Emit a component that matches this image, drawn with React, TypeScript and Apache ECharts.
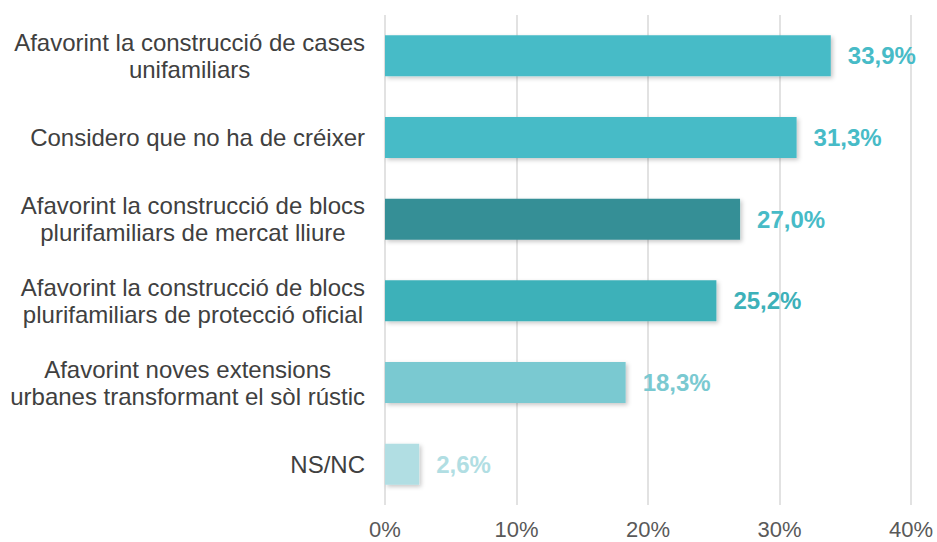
import React, { useEffect, useRef } from "react";
import * as echarts from "echarts";

const categories = [
  "Afavorint la construcció de cases\nunifamiliars",
  "Considero que no ha de créixer",
  "Afavorint la construcció de blocs\nplurifamiliars de mercat lliure",
  "Afavorint la construcció de blocs\nplurifamiliars de protecció oficial",
  "Afavorint noves extensions\nurbanes transformant el sòl rústic",
  "NS/NC",
];
const values = [33.9, 31.3, 27.0, 25.2, 18.3, 2.6];
const barColors = ["#47BBC7", "#47BBC7", "#348F96", "#3DB1B9", "#7AC9D1", "#B1DEE3"];
const labelColors = ["#47BBC7", "#47BBC7", "#47BBC7", "#3DB1B9", "#7AC9D1", "#B1DEE3"];
const xTicks = [0, 10, 20, 30, 40];

const FONT = "Liberation Sans, Arial, Helvetica, sans-serif";

export default function App() {
  const ref = useRef<HTMLDivElement>(null);
  useEffect(() => {
    if (!ref.current) return;
    const chart = echarts.init(ref.current, undefined, { renderer: "svg" });
    chart.setOption({
      animation: false,
      backgroundColor: "#ffffff",
      grid: { left: 385, right: 26, top: 15, bottom: 37, containLabel: false },
      xAxis: {
        type: "value",
        min: xTicks[0],
        max: xTicks[xTicks.length - 1],
        interval: 10,
        axisLine: { show: false },
        axisTick: { show: false },
        splitLine: { show: true, lineStyle: { color: "#D9D9D9", width: 1.5 } },
        axisLabel: {
          formatter: (v: number) => v + "%",
          color: "#595959",
          fontSize: 22,
          fontFamily: FONT,
          margin: 13,
        },
      },
      yAxis: {
        type: "category",
        inverse: true,
        data: categories,
        axisLine: { show: false },
        axisTick: { show: false },
        axisLabel: {
          align: "right",
          margin: 20,
          color: "#404040",
          fontSize: 24,
          lineHeight: 27,
          fontFamily: FONT,
          formatter: (v: string) =>
            v
              .split("\n")
              .map((l) => "{c|" + l + "}")
              .join("\n"),
          rich: {
            c: {
              align: "center",
              color: "#404040",
              fontSize: 24,
              lineHeight: 27,
              fontFamily: FONT,
            },
          },
        },
      },
      series: [
        {
          type: "bar",
          barWidth: 41,
          data: values.map((v, i) => ({
            value: v,
            itemStyle: {
              color: barColors[i],
              shadowBlur: 4,
              shadowColor: "rgba(0,0,0,0.22)",
              shadowOffsetX: 2,
              shadowOffsetY: 2,
            },
            label: { color: labelColors[i] },
          })),
          label: {
            show: true,
            position: "right",
            distance: 17,
            fontSize: 24,
            fontWeight: "bold",
            fontFamily: FONT,
            formatter: (p: any) => p.value.toFixed(1).replace(".", ",") + "%",
          },
        },
      ],
    });
    return () => chart.dispose();
  }, []);
  return (
    <div
      ref={ref}
      style={{ position: "fixed", left: 0, top: 0, width: 937, height: 542 }}
    />
  );
}
